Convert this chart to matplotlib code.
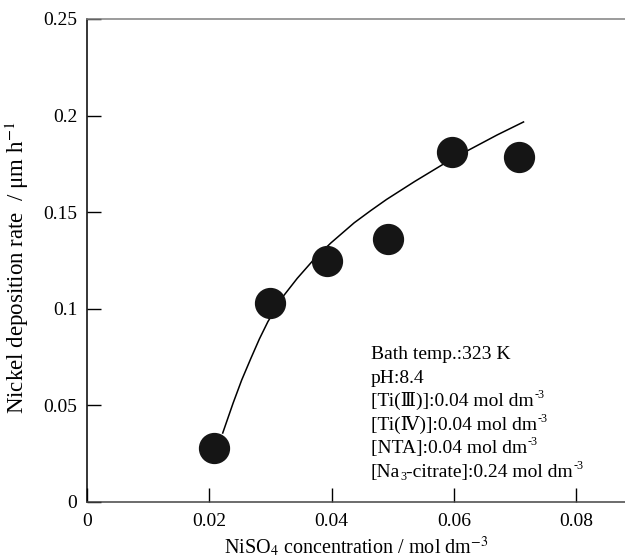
import matplotlib
from matplotlib import pyplot as plt
from matplotlib.ticker import FuncFormatter

matplotlib.use("Agg")

# Measured points (NiSO4 conc. / mol dm-3 vs deposition rate / um h-1)
conc = [0.0207, 0.0299, 0.0393, 0.0493, 0.0597, 0.0707]
rate = [0.028, 0.103, 0.1247, 0.136, 0.181, 0.1786]

# Fitted curve
fit_conc = [0.0222, 0.0239, 0.0253, 0.0268, 0.0282, 0.0296, 0.0322, 0.0344,
            0.0371, 0.0399, 0.0437, 0.0464, 0.0490, 0.0536, 0.0583, 0.0624,
            0.0671, 0.0714]
fit_rate = [0.0357, 0.0512, 0.0631, 0.0743, 0.0844, 0.0934, 0.1069, 0.1158,
            0.1255, 0.1341, 0.1445, 0.1508, 0.1566, 0.1659, 0.1749, 0.1821,
            0.1900, 0.1967]

x_ticks = [0, 0.02, 0.04, 0.06, 0.08]
y_ticks = [0, 0.05, 0.1, 0.15, 0.2, 0.25]

# each line is a list of (text, kind) pieces, kind: "n" normal, "sup", "sub"
conditions = [
    [("Bath temp.:323 K", "n")],
    [("pH:8.4", "n")],
    [("[Ti(Ⅲ)]:0.04 mol dm", "n"), ("-3", "sup")],
    [("[Ti(Ⅳ)]:0.04 mol dm", "n"), ("-3", "sup")],
    [("[NTA]:0.04 mol dm", "n"), ("-3", "sup")],
    [("[Na", "n"), ("3", "sub"), ("-citrate]:0.24 mol dm", "n"), ("-3", "sup")],
]

FONT = ["Liberation Serif", "DejaVu Serif", "Noto Sans CJK JP"]
plt.rcParams["font.family"] = FONT
plt.rcParams["mathtext.fontset"] = "stix"
plt.rcParams["font.size"] = 14


def rich_line(ax, fig, x, y, pieces, size):
    base = fig.text(x, y, pieces[0][0], fontsize=size, ha="left", va="bottom")
    prev = base
    for text, kind in pieces[1:]:
        if kind == "sup":
            fs, dy, dx = size * 0.62, size * 0.46, 0.3
        elif kind == "sub":
            fs, dy, dx = size * 0.62, -size * 0.12, 0
        else:
            fs, dy, dx = size, 0, 0
        prev = ax.annotate(text, xy=(1, 0), xycoords=(prev, base),
                           xytext=(dx, dy), textcoords="offset points",
                           fontsize=fs, ha="left", va="bottom")


fig = plt.figure(figsize=(6.25, 5.6), dpi=100)
ax = fig.add_axes([0.1392, 0.1036, 0.8608, 0.8625])

ax.plot(fit_conc, fit_rate, color="black", linewidth=1.1, zorder=2)
ax.plot(conc, rate, linestyle="none", marker="o", markersize=21.5,
        color="#151515", zorder=3)

ax.set_xlim(0, 0.088)
ax.set_ylim(0, 0.25)
ax.set_xticks(x_ticks)
ax.set_yticks(y_ticks)
ax.xaxis.set_major_formatter(FuncFormatter(lambda v, _: f"{v:g}"))
ax.yaxis.set_major_formatter(FuncFormatter(lambda v, _: f"{v:g}"))
ax.tick_params(direction="in", length=10, width=1, colors="black")
ax.tick_params(axis="x", pad=8)
ax.tick_params(axis="y", pad=7)

ax.spines["right"].set_visible(False)
ax.spines["top"].set_color("#808080")
ax.spines["bottom"].set_color("#444444")
ax.spines["left"].set_color("black")
for s in ax.spines.values():
    s.set_linewidth(1.1)

ax.set_xlabel("NiSO$_4$ concentration / mol dm$^{-3}$", fontsize=14.5)
ax.xaxis.set_label_coords(0.5, -0.066)
ax.set_ylabel("Nickel deposition rate  / μm h$^{-1}$", fontsize=16.5)
ax.yaxis.set_label_coords(-0.104, 0.4855)

# bath conditions, one line each
for i, pieces in enumerate(conditions):
    y_base = 359 + 23.6 * i
    rich_line(ax, fig, 371 / 625, 1 - (y_base + 4) / 560, pieces, 14)

fig.savefig("out.png", dpi=100)
